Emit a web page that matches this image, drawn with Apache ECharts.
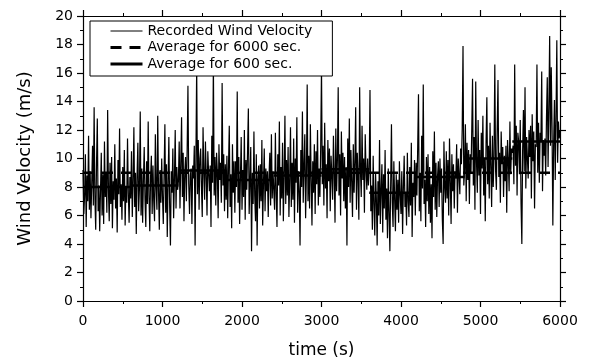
<!DOCTYPE html>
<html>
<head>
<meta charset="utf-8">
<script src="https://cdn.jsdelivr.net/npm/echarts@6/dist/echarts.min.js"></script>
<style>
html,body{margin:0;padding:0;background:#fff;}
#chart{width:592px;height:364px;}
</style>
</head>
<body>
<div id="chart"></div>
<script>
// sampling interval of the recorded series (s)
const timeStep = 10;
// recorded wind velocity (m/s), one value every 10 s from 0 to 6000 s
const velocity = [
// 0-600 s
9.2, 6.1, 7.4, 10.3, 5.2, 8.8, 7.0, 11.6, 6.4, 9.1,
5.8, 8.3, 10.9, 6.7, 13.6, 7.2, 5.0, 9.6, 12.8, 6.3,
8.1, 4.9, 7.7, 10.4, 6.0, 8.9, 5.4, 11.2, 7.3, 9.0,
6.2, 13.4, 7.8, 5.6, 9.7, 6.8, 10.1, 5.1, 8.4, 7.1,
11.0, 6.5, 8.6, 4.8, 9.9, 7.5, 12.1, 6.6, 8.2, 5.7,
9.4, 7.0, 10.6, 5.3, 8.0, 6.9, 11.4, 7.6, 5.5, 8.7,
// 600-1200 s
7.2, 10.5, 5.9, 8.4, 12.2, 6.6, 9.0, 4.7, 8.8, 11.1,
6.3, 7.9, 13.3, 6.0, 9.3, 5.5, 8.5, 10.8, 7.1, 5.2,
9.8, 6.8, 12.6, 7.4, 4.9, 8.7, 10.2, 6.1, 9.5, 7.0,
5.6, 11.7, 8.0, 6.4, 13.0, 7.7, 5.0, 9.2, 6.9, 10.0,
7.3, 5.4, 8.9, 12.4, 6.2, 9.6, 4.5, 8.3, 11.5, 6.7,
3.9, 9.1, 7.6, 10.7, 5.8, 8.6, 12.0, 6.5, 9.4, 7.8,
// 1200-1800 s
8.4, 11.2, 6.5, 9.7, 12.9, 7.3, 10.4, 5.6, 9.0, 10.1,
7.0, 10.6, 15.1, 8.2, 6.1, 8.8, 9.3, 5.4, 9.5, 8.6,
10.9, 3.9, 9.8, 16.5, 7.5, 11.3, 6.4, 10.0, 10.7, 8.0,
5.9, 12.2, 9.1, 7.1, 11.2, 8.8, 6.0, 10.5, 9.0, 7.7,
9.5, 5.2, 11.6, 8.3, 16.8, 7.4, 10.1, 6.7, 10.4, 9.0,
5.8, 11.0, 8.5, 9.7, 6.9, 15.3, 8.1, 10.3, 6.3, 9.6,
// 1800-2400 s
7.1, 10.2, 5.8, 9.4, 12.3, 6.6, 8.9, 5.1, 11.0, 7.6,
9.8, 6.2, 9.8, 8.0, 14.7, 6.9, 10.1, 5.4, 8.6, 11.5,
6.4, 9.2, 7.3, 12.0, 5.7, 9.9, 7.8, 10.6, 13.5, 6.1,
8.4, 10.8, 3.5, 9.0, 6.8, 11.9, 7.4, 5.6, 10.3, 3.9,
8.7, 9.5, 6.5, 9.6, 7.0, 11.3, 5.3, 8.2, 10.7, 6.3,
9.3, 7.7, 9.1, 5.9, 8.8, 10.4, 6.7, 11.7, 7.2, 9.1,
// 2400-3000 s
9.0, 6.4, 11.8, 7.5, 5.2, 10.3, 8.1, 12.6, 6.0, 9.4,
7.2, 11.1, 5.6, 8.7, 13.0, 6.8, 9.9, 7.4, 10.8, 5.9,
8.5, 12.2, 6.6, 9.7, 7.1, 11.4, 5.5, 10.0, 8.3, 12.9,
6.2, 9.1, 7.8, 3.9, 10.6, 8.0, 13.3, 6.9, 9.5, 11.7,
5.8, 8.9, 15.2, 7.0, 10.2, 6.5, 12.4, 8.6, 5.3, 9.8,
7.6, 11.0, 6.1, 10.5, 8.2, 12.0, 6.7, 9.3, 7.3, 10.9,
// 3000-3600 s
16.4, 8.2, 10.9, 6.7, 12.5, 7.9, 9.6, 5.8, 11.3, 8.4,
10.7, 6.3, 10.2, 8.8, 7.1, 11.6, 9.0, 5.5, 12.1, 7.7,
9.9, 15.0, 7.4, 10.3, 6.0, 11.9, 8.6, 10.4, 7.0, 10.1,
6.5, 9.4, 3.9, 11.4, 8.0, 12.8, 6.9, 10.6, 8.3, 5.9,
11.0, 7.6, 9.7, 13.6, 6.4, 10.4, 8.7, 5.7, 15.0, 9.1,
7.3, 12.3, 8.5, 10.0, 6.2, 11.7, 9.2, 7.8, 10.0, 8.1,
// 3600-4200 s
9.2, 14.8, 6.3, 8.1, 5.0, 10.2, 6.8, 4.6, 9.0, 7.2,
3.9, 8.4, 6.0, 11.3, 5.4, 7.7, 9.6, 4.8, 8.9, 6.5,
10.6, 5.7, 7.9, 4.4, 9.3, 6.2, 3.5, 8.2, 12.4, 6.9,
5.2, 9.8, 7.1, 4.9, 8.9, 6.4, 8.5, 5.5, 9.8, 7.4,
6.1, 9.1, 4.7, 8.0, 10.2, 6.6, 7.5, 5.3, 10.4, 7.0,
5.9, 9.4, 6.7, 11.1, 4.5, 8.3, 7.3, 9.9, 6.0, 9.7,
// 4200-4800 s
7.4, 10.8, 14.5, 6.3, 9.0, 5.6, 11.6, 7.9, 15.2, 6.8,
8.5, 5.2, 10.1, 7.0, 10.3, 6.1, 9.4, 5.5, 8.2, 4.4,
10.5, 7.3, 11.9, 6.4, 9.7, 5.9, 8.8, 9.8, 6.6, 10.0,
7.6, 9.3, 5.7, 4.0, 11.2, 8.0, 6.9, 10.5, 7.2, 9.9,
6.0, 11.4, 8.4, 5.4, 10.3, 7.7, 9.6, 6.5, 9.1, 8.6,
11.0, 6.2, 10.0, 8.9, 7.5, 10.7, 9.6, 12.1, 17.9, 8.1,
// 4800-5400 s
9.2, 12.4, 7.0, 11.1, 8.5, 10.6, 6.8, 10.3, 9.0, 12.0,
15.6, 8.1, 11.5, 6.4, 15.4, 9.7, 7.6, 12.7, 8.8, 10.6,
6.1, 11.8, 9.3, 13.0, 7.4, 10.0, 5.6, 11.2, 14.3, 8.2,
10.9, 7.2, 12.5, 9.5, 6.6, 11.6, 8.0, 10.2, 16.6, 9.1,
7.8, 12.1, 15.5, 8.7, 10.4, 6.9, 11.9, 9.6, 10.8, 7.3,
10.2, 8.4, 10.9, 6.2, 11.3, 9.9, 7.7, 12.6, 8.9, 10.7,
// 5400-6000 s
10.4, 10.9, 8.2, 16.6, 9.5, 12.3, 7.4, 11.8, 11.2, 8.9,
12.7, 6.8, 4.0, 10.6, 13.4, 9.1, 15.0, 7.9, 11.5, 11.6,
8.6, 12.0, 10.1, 12.3, 7.2, 13.1, 9.8, 11.9, 6.5, 11.0,
10.8, 16.6, 9.0, 12.5, 8.3, 11.8, 11.2, 16.1, 7.7, 11.3,
10.2, 11.4, 8.8, 12.9, 15.7, 9.4, 13.6, 18.6, 10.9, 16.4,
12.2, 5.3, 11.0, 14.1, 8.5, 13.0, 18.3, 9.7, 12.6, 11.4,
12.0
];
// 600-second block averages (m/s)
const avgWindow = 600;
const avg600 = [8.0, 8.1, 9.15, 8.5, 8.8, 9.25, 7.6, 8.7, 10.0, 11.2];
// 6000-second average (m/s)
const avg6000 = 9.0;
const timeRange = [0, 6000];
const velRange = [0, 20];
const seriesNames = ['Recorded Wind Velocity', 'Average for 6000 sec.', 'Average for 600 sec.'];

const recorded = velocity.map((v, i) => [i * timeStep, v]);
const blocks = [];
avg600.forEach((v, k) => {
  blocks.push([k * avgWindow, v]);
  blocks.push([(k + 1) * avgWindow, v]);
  blocks.push([(k + 1) * avgWindow, '-']);
});
const overall = [[timeRange[0], avg6000], [timeRange[1], avg6000]];

const FONT = 'DejaVu Sans';
const DASH = [11, 8];
const axisCommon = {
  axisLine: {show: true, onZero: false, lineStyle: {color: '#000', width: 1.2}},
  axisTick: {show: true, inside: false, length: 6, lineStyle: {color: '#000', width: 1.2}},
  minorTick: {show: true, splitNumber: 2, length: 3, lineStyle: {color: '#000', width: 1}},
  splitLine: {show: false}
};
const plain = v => String(v);

const chart = echarts.init(document.getElementById('chart'), null, {renderer: 'canvas'});
chart.setOption({
  animation: false,
  backgroundColor: '#fff',
  grid: {left: 83, right: 32, top: 16, bottom: 61, containLabel: false},
  legend: {
    orient: 'vertical',
    left: 90, top: 21,
    padding: [3, 20, 5, 19],
    itemGap: 2.5,
    itemWidth: 32, itemHeight: 14,
    backgroundColor: '#fff',
    borderColor: '#000', borderWidth: 1, borderRadius: 0,
    data: [
      {name: seriesNames[0], lineStyle: {width: 1, color: '#000'}},
      {name: seriesNames[1], lineStyle: {width: 3, color: '#000', type: DASH}},
      {name: seriesNames[2], lineStyle: {width: 3, color: '#000'}}
    ],
    itemStyle: {opacity: 0},
    textStyle: {fontFamily: FONT, fontSize: 14, color: '#000'},
    z: 10
  },
  xAxis: [
    Object.assign({}, axisCommon, {
      type: 'value', position: 'bottom', min: timeRange[0], max: timeRange[1], interval: 1000,
      name: 'time (s)', nameLocation: 'middle', nameGap: 41,
      nameTextStyle: {fontFamily: FONT, fontSize: 17, color: '#000'},
      axisLabel: {show: true, margin: 13, color: '#000', fontFamily: FONT, fontSize: 14, formatter: plain}
    }),
    Object.assign({}, axisCommon, {
      type: 'value', position: 'top', min: timeRange[0], max: timeRange[1], interval: 1000,
      axisLabel: {show: false}
    })
  ],
  yAxis: [
    Object.assign({}, axisCommon, {
      type: 'value', position: 'left', min: velRange[0], max: velRange[1], interval: 2,
      name: 'Wind Velocity (m/s)', nameLocation: 'middle', nameGap: 49,
      nameTextStyle: {fontFamily: FONT, fontSize: 18, color: '#000'},
      axisLabel: {show: true, margin: 10, color: '#000', fontFamily: FONT, fontSize: 14, formatter: plain}
    }),
    Object.assign({}, axisCommon, {
      type: 'value', position: 'right', min: velRange[0], max: velRange[1], interval: 2,
      axisLabel: {show: false}
    })
  ],
  series: [
    {
      name: seriesNames[0], type: 'line', data: recorded, xAxisIndex: 0, yAxisIndex: 0,
      showSymbol: false, symbol: 'none',
      lineStyle: {color: '#000', width: 1.2}, itemStyle: {color: '#000'},
      z: 2
    },
    {
      name: seriesNames[1], type: 'line', data: overall,
      showSymbol: false, symbol: 'none',
      lineStyle: {color: '#000', width: 2.5, type: DASH}, itemStyle: {color: '#000'},
      z: 3
    },
    {
      name: seriesNames[2], type: 'line', data: blocks, connectNulls: false,
      showSymbol: false, symbol: 'none',
      lineStyle: {color: '#000', width: 2.5}, itemStyle: {color: '#000'},
      z: 4
    }
  ]
});
</script>
</body>
</html>
